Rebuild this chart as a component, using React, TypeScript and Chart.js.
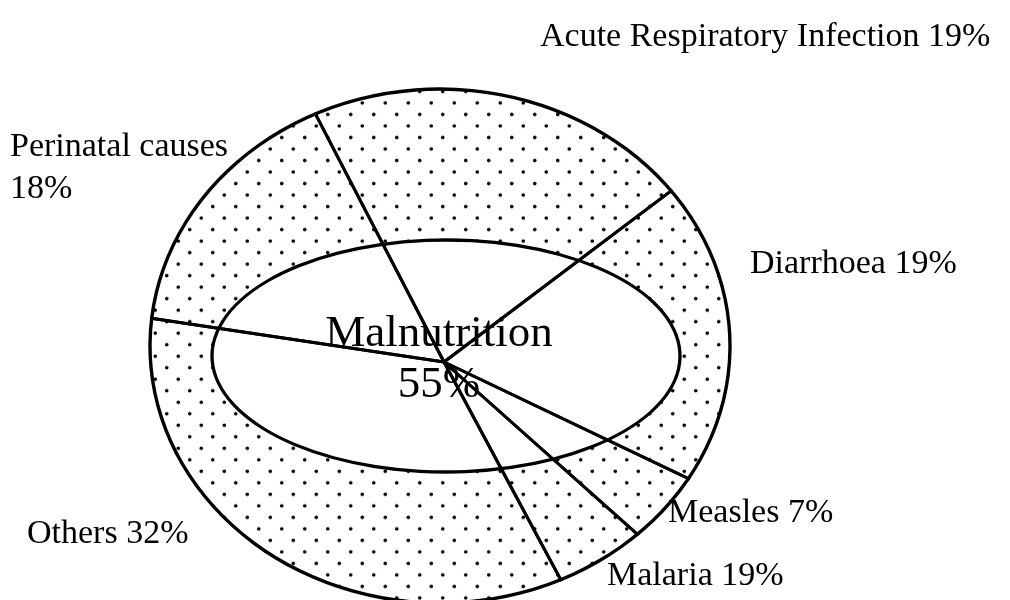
import React, { useEffect, useRef } from 'react';
import { Chart, registerables } from 'chart.js';

Chart.register(...registerables);

// ---- Data ----
// Causes, clockwise starting at the upper-left boundary line
const causeNames = ['Acute Respiratory Infection', 'Diarrhoea', 'Measles', 'Malaria', 'Others', 'Perinatal causes'];
const causePercents = [19, 19, 7, 19, 32, 18];
// Angular sweep of each sector as drawn (degrees)
const sectorSweeps = [80.4, 62.5, 16.2, 20.1, 126.7, 54.1];
// Angle of the first boundary line, measured clockwise from 12 o'clock
const firstBoundary = -27.4;
const centreName = 'Malnutrition';
const centrePercent = 55;

// ---- Layout / style ----
const W = 1010;
const H = 600;
const OUTER = { cx: 440, cy: 346, rx: 290, ry: 257, line: 3.4 };
const INNER = { cx: 446, cy: 356, rx: 234, ry: 116, line: 3.3 };
const HUB = { cx: 444, cy: 362, r: 340, line: 3 };
const SERIF = '"Liberation Serif", "Times New Roman", Times, serif';
const SIDE_FONT = 34;
const CENTRE_FONT = 45;
// label anchor: left x and text baseline y, per cause (same order as causeNames)
const labelLayout = [
  { x: 540, y: 46, wrap: false },
  { x: 750, y: 273, wrap: false },
  { x: 668, y: 522, wrap: false },
  { x: 607, y: 585, wrap: false },
  { x: 27, y: 543, wrap: false },
  { x: 10, y: 156, wrap: true },
];
const centreLayout = { x: 439, nameY: 347, pctY: 398 };

function padFor(cx: number, cy: number) {
  return {
    left: Math.max(0, 2 * cx - W),
    right: Math.max(0, W - 2 * cx),
    top: Math.max(0, 2 * cy - H),
    bottom: Math.max(0, H - 2 * cy),
  };
}

function scalePlugin(sy: number) {
  return {
    id: 'ellipseScale',
    beforeDatasetsDraw(chart: any) {
      const arc = chart.getDatasetMeta(0).data[0];
      const ctx = chart.ctx;
      ctx.save();
      ctx.translate(arc.x, arc.y);
      ctx.scale(1, sy);
      ctx.translate(-arc.x, -arc.y);
    },
    afterDatasetsDraw(chart: any) {
      chart.ctx.restore();
    },
  };
}

function dotPattern(sy: number) {
  const tw = 23;
  const th = Math.round(23 / sy);
  const c = document.createElement('canvas');
  c.width = tw;
  c.height = th;
  const g = c.getContext('2d') as CanvasRenderingContext2D;
  g.fillStyle = '#ffffff';
  g.fillRect(0, 0, tw, th);
  g.fillStyle = '#000000';
  const pts = [
    [tw * 0.25, th * 0.25],
    [tw * 0.75, th * 0.75],
  ];
  pts.forEach(([x, y]) => {
    g.beginPath();
    g.ellipse(x, y, 1.8, 1.8 / sy, 0, 0, Math.PI * 2);
    g.fill();
  });
  return g.createPattern(c, 'repeat') as CanvasPattern;
}

function makePie(
  canvas: HTMLCanvasElement,
  labels: string[],
  values: number[],
  fill: any,
  cx: number,
  cy: number,
  r: number,
  sy: number,
  borderWidth: number
) {
  return new Chart(canvas, {
    type: 'pie',
    data: {
      labels,
      datasets: [
        {
          data: values,
          backgroundColor: fill,
          borderColor: '#000000',
          borderWidth,
          borderJoinStyle: 'round',
          clip: false,
        } as any,
      ],
    },
    options: {
      responsive: false,
      animation: false,
      events: [],
      radius: r,
      rotation: firstBoundary,
      layout: { padding: padFor(cx, cy) },
      plugins: { legend: { display: false }, tooltip: { enabled: false } },
    } as any,
    plugins: sy !== 1 ? [scalePlugin(sy)] : [],
  });
}

const canvasStyle: React.CSSProperties = {
  position: 'absolute',
  left: 0,
  top: 0,
  width: W,
  height: H,
};

function textTop(baseline: number, size: number) {
  return baseline - 0.8375 * size;
}

export default function App() {
  const outerLineRef = useRef<HTMLCanvasElement>(null);
  const outerFillRef = useRef<HTMLCanvasElement>(null);
  const innerLineRef = useRef<HTMLCanvasElement>(null);
  const innerFillRef = useRef<HTMLCanvasElement>(null);
  const linesRef = useRef<HTMLCanvasElement>(null);

  useEffect(() => {
    const charts: Chart[] = [];
    const total = [sectorSweeps.reduce((a, b) => a + b, 0)];

    // outer ellipse: black rim then dotted body
    const oR1 = OUTER.rx + OUTER.line / 2;
    const oSy1 = (OUTER.ry + OUTER.line / 2) / oR1;
    const oR2 = OUTER.rx - OUTER.line / 2;
    const oSy2 = (OUTER.ry - OUTER.line / 2) / oR2;
    const outerRim = makePie(outerLineRef.current!, ['All causes'], total, '#000000', OUTER.cx, OUTER.cy, oR1, oSy1, 0);
    charts.push(outerRim);
    charts.push(makePie(outerFillRef.current!, ['All causes'], total, dotPattern(oSy2), OUTER.cx, OUTER.cy, oR2, oSy2, 0));

    // inner ellipse: black rim then white body
    const iR1 = INNER.rx + INNER.line / 2;
    const iSy1 = (INNER.ry + INNER.line / 2) / iR1;
    const iR2 = INNER.rx - INNER.line / 2;
    const iSy2 = (INNER.ry - INNER.line / 2) / iR2;
    charts.push(makePie(innerLineRef.current!, [centreName], [centrePercent], '#000000', INNER.cx, INNER.cy, iR1, iSy1, 0));
    charts.push(makePie(innerFillRef.current!, [centreName], [centrePercent], '#ffffff', INNER.cx, INNER.cy, iR2, iSy2, 0));

    // sector boundary lines
    const lines = makePie(linesRef.current!, causeNames, sectorSweeps, 'rgba(0,0,0,0)', HUB.cx, HUB.cy, HUB.r, 1, HUB.line);
    charts.push(lines);

    // clip the boundary lines to the outer ellipse (taken from the rim chart)
    const rim: any = outerRim.getDatasetMeta(0).data[0];
    if (rim && linesRef.current) {
      linesRef.current.style.clipPath = `ellipse(${rim.outerRadius}px ${rim.outerRadius * oSy1}px at ${rim.x}px ${rim.y}px)`;
    }

    return () => charts.forEach((c) => c.destroy());
  }, []);

  const sideStyle = (x: number, y: number): React.CSSProperties => ({
    position: 'absolute',
    left: x,
    top: textTop(y, SIDE_FONT),
    fontFamily: SERIF,
    fontSize: SIDE_FONT,
    lineHeight: 1,
    whiteSpace: 'nowrap',
    color: '#000',
  });

  const centreStyle = (y: number): React.CSSProperties => ({
    position: 'absolute',
    left: centreLayout.x - 200,
    width: 400,
    top: textTop(y, CENTRE_FONT),
    textAlign: 'center',
    fontFamily: SERIF,
    fontSize: CENTRE_FONT,
    lineHeight: 1,
    color: '#000',
  });

  return (
    <div
      style={{
        position: 'fixed',
        left: 0,
        top: 0,
        width: W,
        height: H,
        overflow: 'hidden',
        background: '#ffffff',
      }}
    >
      <canvas ref={outerLineRef} width={W} height={H} style={canvasStyle} />
      <canvas ref={outerFillRef} width={W} height={H} style={canvasStyle} />
      <canvas ref={innerLineRef} width={W} height={H} style={canvasStyle} />
      <canvas ref={innerFillRef} width={W} height={H} style={canvasStyle} />
      <canvas ref={linesRef} width={W} height={H} style={canvasStyle} />

      {causeNames.map((name, i) => {
        const L = labelLayout[i];
        if (L.wrap) {
          return (
            <React.Fragment key={name}>
              <div style={sideStyle(L.x, L.y)}>{name}</div>
              <div style={sideStyle(L.x, L.y + 42)}>{`${causePercents[i]}%`}</div>
            </React.Fragment>
          );
        }
        return (
          <div key={name} style={sideStyle(L.x, L.y)}>
            {`${name} ${causePercents[i]}%`}
          </div>
        );
      })}

      <div style={centreStyle(centreLayout.nameY)}>{centreName}</div>
      <div style={centreStyle(centreLayout.pctY)}>{`${centrePercent}%`}</div>
    </div>
  );
}
